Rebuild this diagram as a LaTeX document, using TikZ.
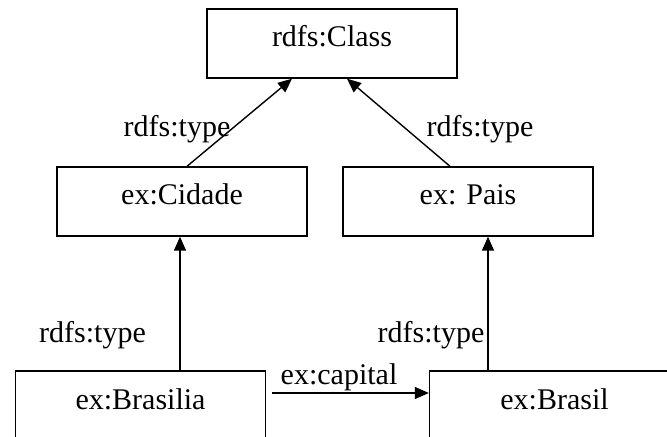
\documentclass[tikz,border=0pt]{standalone}
\usepackage{fontspec}
\setmainfont{Liberation Serif}
\usepackage{tikz}
\usetikzlibrary{calc,arrows.meta}

\begin{document}
\begin{tikzpicture}
      [   x=0.5pt,y=-0.5pt,
          box/.style={draw=black,line width=0.7pt,minimum width=125pt,minimum height=34.5pt,
                      inner sep=0pt,text height=10pt,text depth=6.5pt,font=\fontsize{15}{18}\selectfont},
          lbl/.style={inner sep=0pt,font=\fontsize{15}{18}\selectfont},
          arr/.style={line width=0.7pt,-{Triangle[length=7pt,width=6pt]}},
      ]
          \clip (0,0) rectangle (667,437);
          \node[box] (class) at (332,43.5) {rdfs:Class};
          \node[box] (cidade) at (182,201.5) {ex:Cidade};
          \node[box] (pais) at (468,201.5) {ex: Pais};
          \node[box] (brasilia) at (140.5,405.5) {ex:Brasilia};
          \node[box] (brasil) at (554.5,405.5) {ex:Brasil};
          % rdfs:type links
          \draw[arr] ($(cidade.north)+(5,0)$) -- ($(class.south)+(-40,0)$);
          \draw[arr] ($(pais.north)+(-18,0)$) -- ($(class.south)+(15,0)$);
          \draw[arr] ($(brasilia.north)+(39.5,0)$) -- ($(cidade.south)+(-2,0)$);
          \draw[arr] ($(brasil.north)+(-66.5,0)$) -- ($(pais.south)+(20,0)$);
          \draw[arr,shorten <=6pt*0.5] ($(brasilia.east)+(0,-12.5)$) -- ($(brasil.west)+(0,-12.5)$);
          \node[lbl] (t-1) at (177,129) {rdfs:type};
          \node[lbl] (t-2) at (480,129) {rdfs:type};
          \node[lbl] (t-3) at (92.5,335) {rdfs:type};
          \node[lbl] (t-4) at (431,335) {rdfs:type};
          \node[lbl] (cap) at (339,377) {ex:capital};
    \end{tikzpicture}
\end{document}
